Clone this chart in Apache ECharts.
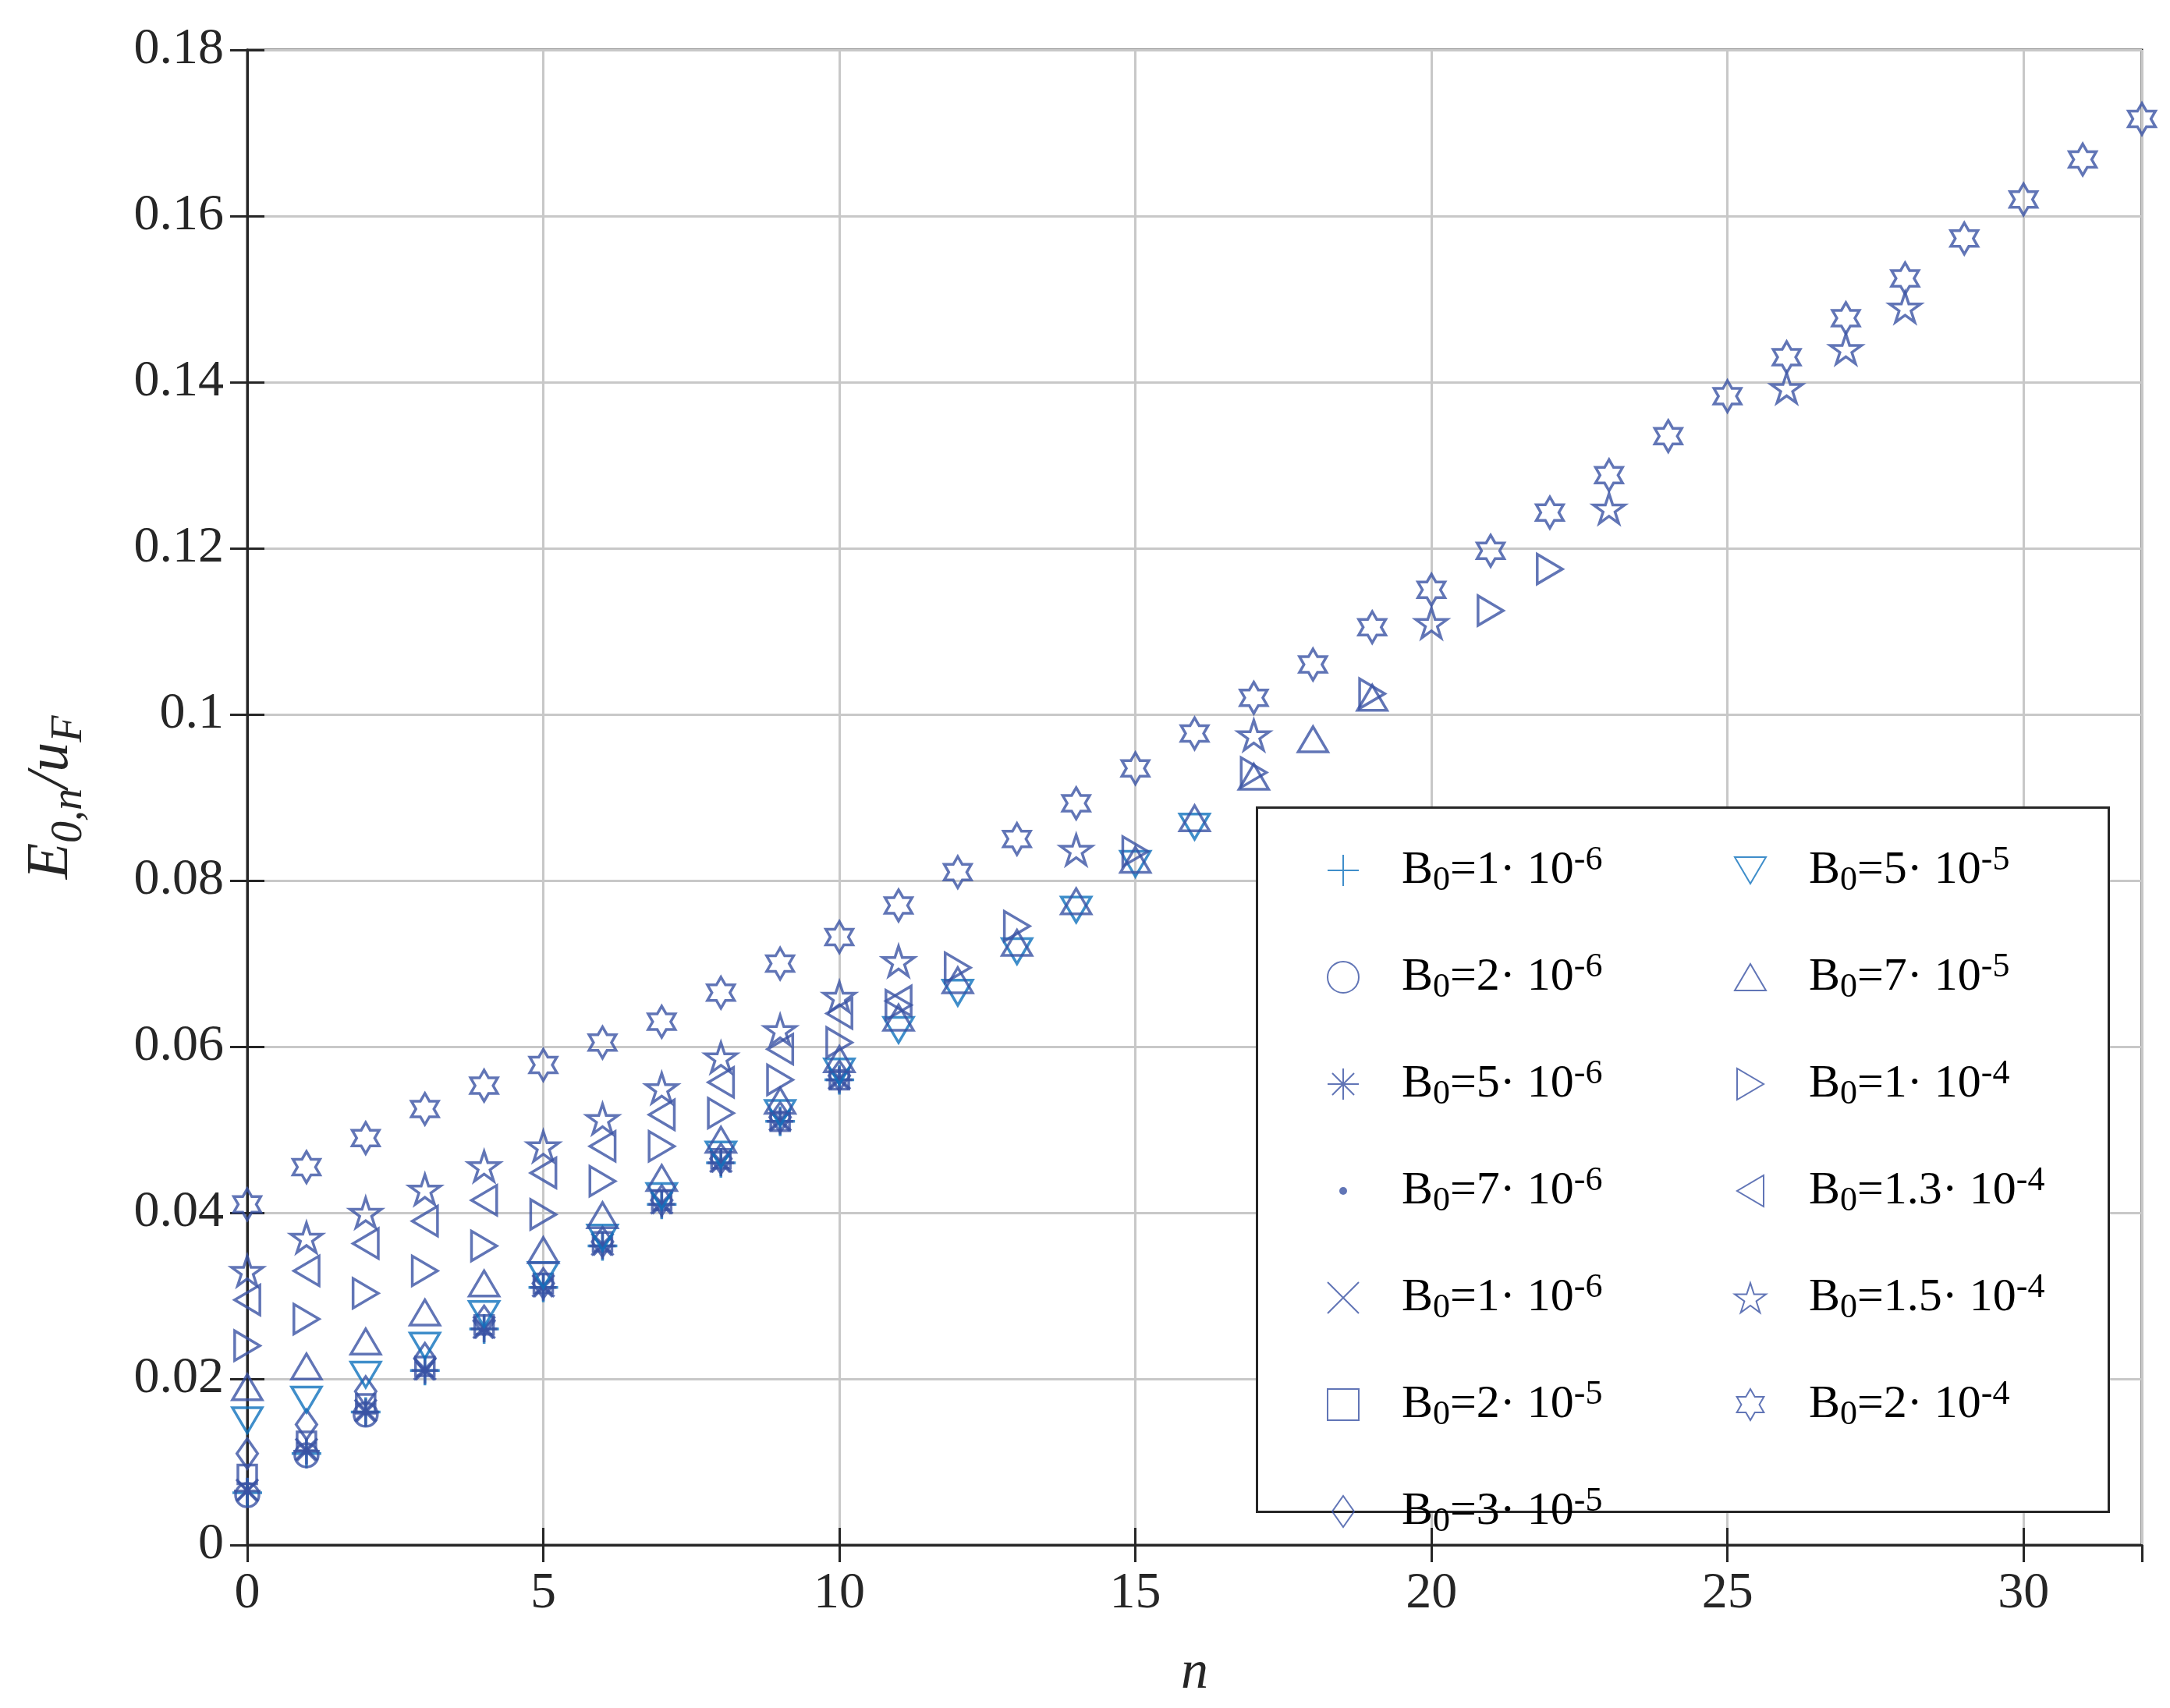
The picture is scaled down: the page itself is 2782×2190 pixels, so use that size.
<!DOCTYPE html>
<html><head><meta charset="utf-8">
<script src="https://cdn.jsdelivr.net/npm/echarts@6/dist/echarts.min.js"></script>
<style>html,body{margin:0;background:#fff}#c{width:2782px;height:2190px}</style></head>
<body><div id="c"></div>
<script>
const labels = ['1·10^-6','2·10^-6','5·10^-6','7·10^-6','1·10^-6 ','2·10^-5','3·10^-5','5·10^-5','7·10^-5','1·10^-4','1.3·10^-4','1.5·10^-4','2·10^-4'];
const yTicks = [0,0.02,0.04,0.06,0.08,0.1,0.12,0.14,0.16,0.18];
const s_plus = [[0,0.0063],[1,0.011],[2,0.016],[3,0.021],[4,0.026],[5,0.031],[6,0.036],[7,0.041],[8,0.046],[9,0.051],[10,0.056]];
const s_circ = [[0,0.006],[1,0.0108],[2,0.0157]];
const s_ast = [[0,0.0065],[1,0.0113],[2,0.016],[3,0.021],[4,0.026],[5,0.031],[6,0.036],[7,0.041],[8,0.046],[9,0.051],[10,0.056]];
const s_dot = [[0,0.0065],[1,0.0113],[2,0.016],[3,0.021],[4,0.026],[5,0.031],[6,0.036],[7,0.041],[8,0.046],[9,0.051],[10,0.056]];
const s_x = [[0,0.0066],[1,0.0115],[2,0.0162],[3,0.0212],[4,0.0262],[5,0.0312],[6,0.0362],[7,0.0412],[8,0.0462],[9,0.0512],[10,0.0562]];
const s_sq = [[0,0.0085],[1,0.0125],[2,0.017],[3,0.0215],[4,0.0265],[5,0.0315],[6,0.0365],[7,0.0415],[8,0.0465],[9,0.051],[10,0.056]];
const s_dia = [[0,0.011],[1,0.0145],[2,0.0185],[3,0.0225],[4,0.027],[5,0.0315],[6,0.0365],[7,0.0415],[8,0.0465],[9,0.0515],[10,0.0565]];
const s_dn = [[0,0.015],[1,0.0175],[2,0.0205],[3,0.024],[4,0.0278],[5,0.0325],[6,0.037],[7,0.042],[8,0.047],[9,0.052],[10,0.057],[11,0.062],[12,0.0665],[13,0.0715],[14,0.0765],[15,0.082],[16,0.0865]];
const s_up = [[0,0.019],[1,0.0215],[2,0.0245],[3,0.028],[4,0.0315],[5,0.0355],[6,0.0397],[7,0.0442],[8,0.0488],[9,0.0535],[10,0.0585],[11,0.0635],[12,0.068],[13,0.0725],[14,0.0775],[15,0.0825],[16,0.0875],[17,0.0925],[18,0.097],[19,0.102]];
const s_rt = [[0,0.024],[1,0.0272],[2,0.0303],[3,0.033],[4,0.036],[5,0.0398],[6,0.0438],[7,0.048],[8,0.052],[9,0.056],[10,0.0605],[11,0.065],[12,0.0695],[13,0.0745],[15,0.0835],[17,0.093],[19,0.1025],[21,0.1125],[22,0.1175]];
const s_lt = [[0,0.0295],[1,0.033],[2,0.0363],[3,0.039],[4,0.0415],[5,0.0448],[6,0.048],[7,0.0518],[8,0.0557],[9,0.0597],[10,0.064],[11,0.0655]];
const s_pent = [[0,0.033],[1,0.037],[2,0.040],[3,0.0428],[4,0.0456],[5,0.048],[6,0.0513],[7,0.055],[8,0.0587],[9,0.062],[10,0.066],[11,0.0703],[14,0.0837],[17,0.0975],[20,0.111],[23,0.1248],[26,0.1393],[27,0.144],[28,0.149]];
const s_hex = [[0,0.041],[1,0.0455],[2,0.049],[3,0.0525],[4,0.0553],[5,0.0578],[6,0.0605],[7,0.063],[8,0.0665],[9,0.070],[10,0.0732],[11,0.077],[12,0.081],[13,0.085],[14,0.0893],[15,0.0935],[16,0.0977],[17,0.102],[18,0.106],[19,0.1105],[20,0.115],[21,0.1197],[22,0.1243],[23,0.1288],[24,0.1335],[25,0.1383],[26,0.143],[27,0.1477],[28,0.1525],[29,0.1573],[30,0.162],[31,0.1668],[32,0.1717]];

const C1='#0f72bd', C2='#3a53a4';
const P = {
 plus:'path://M-10,0L10,0M0,-10L0,10',
 ast:'path://M-10,0L10,0M0,-10L0,10M-7,-7L7,7M-7,7L7,-7',
 x:'path://M-7,-7L7,7M-7,7L7,-7',
 sq:'path://M-10,-10L10,-10L10,10L-10,10Z',
 dia:'path://M0,-10L7,0L0,10L-7,0Z',
 dn:'path://M-10,-8L10,-8L0,9Z',
 up:'path://M-10,8L10,8L0,-9Z',
 rt:'path://M-8,-10L-8,10L9,0Z',
 lt:'path://M8,-10L8,10L-9,0Z',
 pent:'path://M0,-10L2.245,-3.09L9.51,-3.09L3.633,1.18L5.88,8.09L0,3.82L-5.88,8.09L-3.633,1.18L-9.51,-3.09L-2.245,-3.09Z',
 hex:'path://M0,-10L2.887,-5L8.66,-5L5.774,0L8.66,5L2.887,5L0,10L-2.887,5L-8.66,5L-5.774,0L-8.66,-5L-2.887,-5Z'
};
const dotIcon = 'image://data:image/svg+xml;utf8,' + encodeURIComponent('<svg xmlns="http://www.w3.org/2000/svg" width="40" height="40"><circle cx="20" cy="20" r="5" fill="#3a53a4"/></svg>');
const defs = [
 [labels[0],s_plus,P.plus,C1,38],
 [labels[1],s_circ,'circle',C2,30],
 [labels[2],s_ast,P.ast,C2,34],
 [labels[3],s_dot,'circle',C2,9,true],
 [labels[4],s_x,P.x,C2,28],
 [labels[5],s_sq,P.sq,C2,24],
 [labels[6],s_dia,P.dia,C2,38],
 [labels[7],s_dn,P.dn,C1,38],
 [labels[8],s_up,P.up,C2,38],
 [labels[9],s_rt,P.rt,C2,38],
 [labels[10],s_lt,P.lt,C2,38],
 [labels[11],s_pent,P.pent,C2,40],
 [labels[12],s_hex,P.hex,C2,40]
];
const series = defs.map(d=>({
 name:d[0], type:'scatter', data:d[1], symbol:d[2], symbolSize:d[4], symbolKeepAspect:true,
 itemStyle: d[5] ? {color:d[3]} : {color:'rgba(0,0,0,0)', borderColor:d[3], borderWidth:3.5},
 emphasis:{disabled:true}
}));
function fmt(name){
 const m = name.trim().match(/^(.*)·10\^(.*)$/);
 return '{m|B}{sub|0}{m|=' + m[1] + '· 10}{sup|' + m[2] + '}';
}
const legText = {fontFamily:'Liberation Serif', fontSize:60, color:'#000', lineHeight:70, padding:[0,0,0,50],
 rich:{m:{fontFamily:'Liberation Serif', fontSize:60, lineHeight:70, color:'#000'},
       sub:{fontSize:44, lineHeight:70, verticalAlign:'bottom', padding:[34,0,0,0], fontFamily:'Liberation Serif', color:'#000'},
       sup:{fontSize:44, lineHeight:70, verticalAlign:'top', padding:[0,0,28,0], fontFamily:'Liberation Serif', color:'#000'}}};
const leg = (names,left)=>({orient:'vertical', left, top:1068, itemWidth:40, itemHeight:40, itemGap:57,
 data:names.map(n=>n===labels[3]?{name:n, icon:dotIcon}:n), formatter:fmt, textStyle:legText, selectedMode:false});
const axisFont = {fontFamily:'Liberation Serif', fontSize:66, color:'#262626'};
const chart = echarts.init(document.getElementById('c'));
chart.setOption({
 animation:false, backgroundColor:'#fff',
 grid:{left:317, right:36, top:64, bottom:209, show:true, borderColor:'#262626', borderWidth:3, backgroundColor:'transparent'},
 xAxis:[{type:'value', min:0, max:32, interval:5, name:'n', nameLocation:'middle', nameGap:130,
   nameTextStyle:{fontFamily:'Liberation Serif', fontSize:70, fontStyle:'italic', color:'#262626'},
   axisLabel:{...axisFont, margin:30, showMaxLabel:false}, axisLine:{lineStyle:{color:'#262626', width:3}},
   axisTick:{inside:true, length:22, lineStyle:{color:'#262626', width:3}},
   splitLine:{lineStyle:{color:'#c8c8c8', width:3}}},
  {type:'value', position:'top', min:0, max:32, interval:5, axisLabel:{show:false}, axisLine:{lineStyle:{color:'#262626', width:3}},
   axisTick:{inside:true, length:22, lineStyle:{color:'#262626', width:3}}, splitLine:{show:false}}],
 yAxis:[{type:'value', min:0, max:0.18, interval:0.02, name:'{a|E}{b|0,n}{a|/u}{b|F}', nameLocation:'middle', nameGap:200, nameRotate:90,
   nameTextStyle:{rich:{a:{fontFamily:'Liberation Serif', fontSize:76, fontStyle:'italic', color:'#262626'},
     b:{fontFamily:'Liberation Serif', fontSize:56, fontStyle:'italic', color:'#262626', verticalAlign:'bottom', padding:[46,0,0,0]}}},
   axisLabel:{...axisFont, margin:30, formatter:v=>String(parseFloat(v.toFixed(2)))},
   axisLine:{lineStyle:{color:'#262626', width:3}},
   axisTick:{inside:true, length:22, lineStyle:{color:'#262626', width:3}},
   splitLine:{lineStyle:{color:'#c8c8c8', width:3}}},
  {type:'value', position:'right', min:0, max:0.18, interval:0.02, axisLabel:{show:false}, axisLine:{show:true, lineStyle:{color:'#262626', width:3}},
   axisTick:{show:true, inside:true, length:22, lineStyle:{color:'#262626', width:3}}, splitLine:{show:false}}],
 legend:[leg(labels.slice(0,7),1696), leg(labels.slice(7),2218)],
 graphic:[{type:'rect', left:1610, top:1034, z:1, shape:{width:1092, height:903}, style:{fill:'#fff', stroke:'#262626', lineWidth:3}}],
 series
});
</script></body></html>
